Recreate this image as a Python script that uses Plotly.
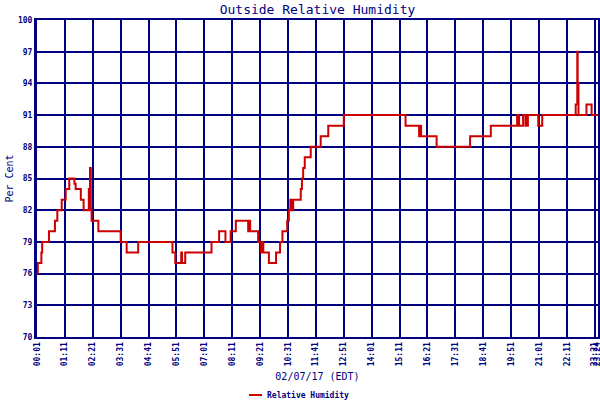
import plotly.graph_objects as go

# Time in minutes after midnight (first sample at 00:01) and relative humidity (%)
minutes = [1, 3, 12, 14, 31, 46, 52, 63, 73, 82, 95, 98, 111, 118, 131, 132, 134, 136, 138,
           155, 211, 226, 255, 341, 348, 363, 365, 373, 439, 458, 474, 487, 500, 531, 533, 536,
           556, 563, 565, 569, 583, 601, 611, 617, 629, 633, 637, 639, 644, 663, 666, 669, 673,
           688, 713, 732, 771, 926, 960, 963, 965, 1004, 1088, 1140, 1206, 1211, 1221, 1227,
           1229, 1231, 1233, 1259, 1269, 1353, 1357, 1358, 1360, 1380, 1393, 1409]
humidity = [76, 77, 78, 79, 80, 81, 82, 83, 84, 85, 84.5, 84, 83, 82, 84, 82, 86, 82, 81,
            80, 79, 78, 79, 78, 77, 78, 77, 78, 79, 80, 79, 80, 81, 80, 81, 80,
            79, 78, 79, 78, 77, 78, 79, 80, 81, 82, 83, 82, 83, 84, 85, 86, 87,
            88, 89, 90, 91, 90, 89, 90, 89, 88, 89, 90, 91, 90, 91, 90,
            91, 90, 91, 90, 91, 92, 97, 94, 91, 92, 91, 91]

tick_minutes = [1, 71, 141, 211, 281, 351, 421, 491, 561, 631, 701, 771, 841, 911,
                981, 1051, 1121, 1191, 1261, 1331, 1401, 1408]
tick_labels = ["00:01", "01:11", "02:21", "03:31", "04:41", "05:51", "07:01", "08:11",
               "09:21", "10:31", "11:41", "12:51", "14:01", "15:11", "16:21", "17:31",
               "18:41", "19:51", "21:01", "22:11", "23:21", "23:24"]
y_ticks = [70, 73, 76, 79, 82, 85, 88, 91, 94, 97, 100]

NAVY = "#000080"
RED = "#cc0000"
MONO = "DejaVu Sans Mono"

fig = go.Figure()
fig.add_trace(go.Scatter(
    x=minutes, y=humidity, mode="lines", line=dict(color=RED, width=2, shape="hv"),
    name="Relative Humidity", hoverinfo="skip", showlegend=False))

fig.update_layout(
    width=600, height=400,
    margin=dict(l=37, r=2, t=20, b=63),
    paper_bgcolor="white", plot_bgcolor="white",
    title=dict(text="Outside Relative Humidity", x=0.5, xref="paper", xanchor="center",
               y=1 - 9 / 400, yref="container", yanchor="middle",
               font=dict(family=MONO, size=13, color=NAVY)),
    xaxis=dict(range=[1, 1409], tickmode="array", tickvals=tick_minutes, ticktext=tick_labels,
               tickangle=-90, tickfont=dict(family=MONO, size=8, color=NAVY, weight="bold"),
               ticklabeloverflow="allow",
               showgrid=True, gridcolor=NAVY, gridwidth=2, zeroline=False,
               showline=True, linecolor=NAVY, linewidth=2, mirror=True, ticks="",
               title=dict(text="02/07/17 (EDT)", standoff=8,
                          font=dict(family=MONO, size=10, color=NAVY)),
               automargin=False, fixedrange=True),
    yaxis=dict(range=[70, 100], tickmode="array", tickvals=y_ticks,
               tickfont=dict(family=MONO, size=8, color=NAVY, weight="bold"),
               showgrid=True, gridcolor=NAVY, gridwidth=2, zeroline=False,
               showline=True, linecolor=NAVY, linewidth=3, mirror=True, ticks="",
               title=dict(text="Per Cent", standoff=3,
                          font=dict(family=MONO, size=10, color=NAVY)),
               automargin=False, fixedrange=True),
)

# Legend drawn below the x-axis title
fig.add_shape(type="line", xref="paper", yref="paper",
              x0=(249 - 37) / 561, x1=(262 - 37) / 561,
              y0=(337 - 395) / 317, y1=(337 - 395) / 317,
              line=dict(color=RED, width=2))
fig.add_annotation(text="Relative Humidity", xref="paper", yref="paper",
                   x=(265 - 37) / 561, y=(337 - 395) / 317, xanchor="left", yanchor="middle",
                   showarrow=False, font=dict(family=MONO, size=8, color=NAVY, weight="bold"))

fig.write_html("out.html", config={"displayModeBar": False},
               post_script="document.body.style.margin='0';document.body.style.overflow='hidden';")
